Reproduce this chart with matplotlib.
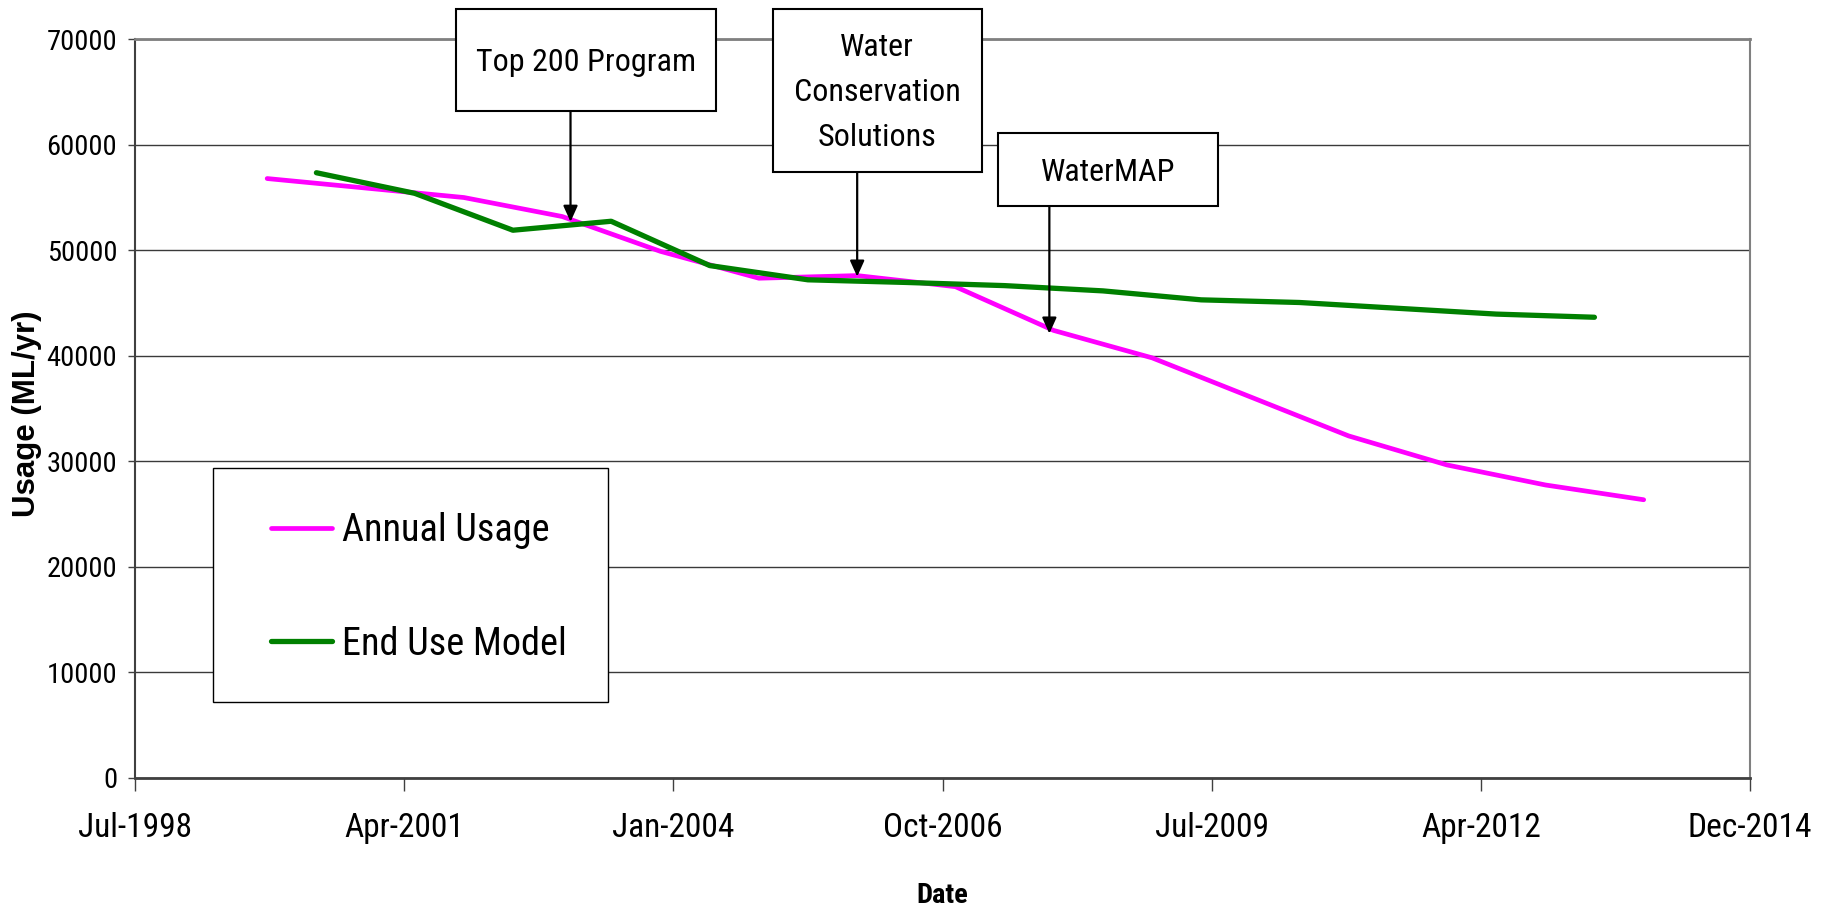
import datetime as dt
import matplotlib
matplotlib.use("Agg")
import matplotlib.pyplot as plt
import matplotlib.dates as mdates
import matplotlib.font_manager as fm
from matplotlib.patches import Rectangle
from matplotlib.ticker import StrMethodFormatter

########## data ##########
usage_dates = ["1999-12-01", "2000-12-01", "2001-12-01", "2002-12-01", "2003-12-01",
               "2004-12-01", "2005-12-01", "2006-12-01", "2007-12-01", "2008-12-01",
               "2009-12-01", "2010-12-01", "2011-12-01", "2012-12-01", "2013-12-01"]
usage_vals = [56800, 55900, 55000, 53200, 49900, 47350, 47600, 46550,
              42400, 39800, 36100, 32400, 29650, 27750, 26350]

model_dates = ["2000-06-01", "2001-06-01", "2002-06-01", "2003-06-01", "2004-06-01",
               "2005-06-01", "2006-06-01", "2007-06-01", "2008-06-01", "2009-06-01",
               "2010-06-01", "2011-06-01", "2012-06-01", "2013-06-01"]
model_vals = [57350, 55400, 51900, 52750, 48550, 47200, 46950, 46650,
              46150, 45300, 45050, 44500, 43950, 43650]

event_labels = ["Top 200 Program", "Water\nConservation\nSolutions", "WaterMAP"]
event_dates = ["2003-01-01", "2005-12-01", "2007-11-15"]
event_vals = [52700, 47500, 42100]

axis_start = "1998-07-28"   # excel date axis, major unit 1000 days
tick_step = 1000
n_ticks = 7

y_ticks = [0, 10000, 20000, 30000, 40000, 50000, 60000, 70000]

########## fonts ##########
names = set(f.name for f in fm.fontManager.ttflist)
narrow = "Liberation Sans"
for cand in ["Liberation Sans Narrow", "Roboto Condensed", "Archivo Narrow", "PT Sans Narrow"]:
    if cand in names:
        narrow = cand
        break
plt.rcParams["font.family"] = [narrow, "DejaVu Sans"]

def d(s):
    return dt.datetime.strptime(s, "%Y-%m-%d")

W, H = 1828.0, 908.0
def fx(px):
    return px / W
def fy(py):
    return 1 - py / H

fig = plt.figure(figsize=(18.28, 9.08), dpi=100)
ax = fig.add_axes([fx(135), fy(777.7), (1750 - 135) / W, (777.7 - 39.3) / H])

ax.plot([d(s) for s in usage_dates], usage_vals, color="#FF00FF", lw=3.4,
        solid_capstyle="round", solid_joinstyle="round", label="Annual Usage", zorder=3)
ax.plot([d(s) for s in model_dates], model_vals, color="#008000", lw=3.8,
        solid_capstyle="round", solid_joinstyle="round", label="End Use Model", zorder=4)

start = d(axis_start)
xt = [start + dt.timedelta(days=tick_step * k) for k in range(n_ticks)]
ax.set_xlim(xt[0], xt[-1])
ax.set_xticks(xt)
ax.xaxis.set_major_formatter(mdates.DateFormatter("%b-%Y"))
ax.set_ylim(0, 70000)
ax.set_yticks(y_ticks)
ax.yaxis.set_major_formatter(StrMethodFormatter("{x:.0f}"))

ax.yaxis.grid(True, color="#3a3a3a", lw=1.0)
ax.set_axisbelow(True)
ax.spines["top"].set_color("#808080")
ax.spines["top"].set_linewidth(2.0)
ax.spines["right"].set_color("#808080")
ax.spines["right"].set_linewidth(1.5)
ax.spines["left"].set_color("#404040")
ax.spines["left"].set_linewidth(1.5)
ax.spines["bottom"].set_color("#404040")
ax.spines["bottom"].set_linewidth(2.0)

ax.tick_params(axis="x", direction="out", length=9, width=1, color="#404040",
               labelsize=24, pad=16)
ax.tick_params(axis="y", direction="out", length=4.8, width=1, color="#404040",
               labelsize=20.5, pad=8)

fig.text(fx(942), fy(903), "Date", ha="center", va="baseline", fontsize=20.5,
         fontweight="bold")
fig.text(fx(27.5), fy(413.5), "Usage (ML/yr)", rotation=90, ha="center", va="center",
         fontsize=22.5, fontweight="bold", family=["Liberation Sans", "DejaVu Sans"])

# legend: frame drawn separately so the padding matches
ax.add_patch(Rectangle((fx(212.7), fy(701.7)), (608.3 - 212.7) / W, (701.7 - 468.3) / H,
                       transform=fig.transFigure, facecolor="white", edgecolor="black",
                       lw=1.0, zorder=5))
leg = ax.legend(loc="center left", bbox_to_anchor=(fx(271), fy(587.5)),
                bbox_transform=fig.transFigure, frameon=False, fontsize=27.5,
                handlelength=1.6, handletextpad=0.25, labelspacing=2.0,
                borderpad=0, borderaxespad=0)
leg.set_zorder(6)

# event boxes + arrows
boxes = [(456.4, 715.8, 9, 110.7), (772.7, 981.7, 9, 171.7), (998.3, 1218.3, 133.3, 206)]
for lab, ds, v, (x0, x1, y0, y1) in zip(event_labels, event_dates, event_vals, boxes):
    fig.add_artist(Rectangle((fx(x0), fy(y1)), (x1 - x0) / W, (y1 - y0) / H,
                             transform=fig.transFigure, facecolor="white",
                             edgecolor="black", lw=1.5, zorder=10))
    fig.text(fx((x0 + x1) / 2), fy((y0 + y1) / 2 + 2.5), lab, ha="center", va="center",
             fontsize=23, linespacing=1.7, zorder=11)
    ax.annotate("", xy=(d(ds), v), xycoords="data",
                xytext=(d(ds), fy(y1)), textcoords=("data", "figure fraction"),
                arrowprops=dict(arrowstyle="-|>,head_length=0.6,head_width=0.27",
                                mutation_scale=16, color="black", lw=1.6,
                                shrinkA=0, shrinkB=0),
                annotation_clip=False, zorder=7)

fig.savefig("out.png", dpi=100)
